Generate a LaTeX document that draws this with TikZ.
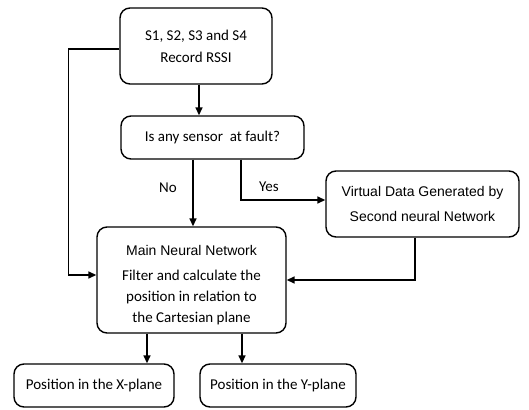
\documentclass[tikz,border=0pt]{standalone}
\usepackage{fontspec}
\setmainfont{Carlito}
\newfontfamily\arialf{Liberation Sans}
\usetikzlibrary{arrows.meta}
\begin{document}
\begin{tikzpicture}[x=1pt,y=1pt,
  box/.style={draw,line width=1.4pt,rounded corners=10pt,align=center,inner sep=0pt,font=\fontsize{15}{22}\selectfont},
  arr/.style={line width=1.6pt,-{Triangle[length=8pt,width=7pt]}},
  lbl/.style={font=\fontsize{15}{18}\selectfont}]
\useasboundingbox (0,0) rectangle (529,-409);
\node[box,minimum width=152pt,minimum height=76pt] (top) at (196,-46) {S1, S2, S3 and S4\\Record RSSI};
\node[box,minimum width=183pt,minimum height=43pt] (q) at (212.5,-137.5) {Is any sensor\ \ at fault?};
\node[box,minimum width=193pt,minimum height=66pt,font=\arialf\fontsize{14}{25}\selectfont] (virt) at (422.5,-204) {Virtual Data Generated by\\Second neural Network};
\node[box,minimum width=189pt,minimum height=106pt] (main) at (191.5,-280) {\rule{0pt}{20pt}{\arialf\fontsize{14}{16}\selectfont Main Neural Network}\\[3pt]Filter and calculate the\\[-1pt]position in relation to\\[-1pt]the Cartesian plane};
\node[box,minimum width=160pt,minimum height=43pt] (xp) at (94,-385.5) {Position in the X-plane};
\node[box,minimum width=156pt,minimum height=43pt] (yp) at (278,-385.5) {Position in the Y-plane};
\node[lbl] (no) at (168,-188) {No};
\node[lbl] (yes) at (269,-187) {Yes};
\draw[arr] ([xshift=3pt]top.south) -- ([xshift=3pt]top.south |- q.north);
\draw[arr] ([xshift=1.5pt]main.north |- q.south) -- ([xshift=1.5pt]main.north);
\draw[arr] ([xshift=28.5pt]q.south) |- ([yshift=4pt]virt.west);
\draw[arr] ([xshift=-7.5pt]virt.south) |- (main.east);
\draw[arr] ([yshift=-3pt]top.west) -- ++(-51,0) |- ([yshift=5pt]main.west);
\draw[arr] ([xshift=-44.5pt]main.south) -- ([xshift=-44.5pt]main.south |- xp.north);
\draw[arr] ([xshift=50.5pt]main.south) -- ([xshift=50.5pt]main.south |- yp.north);
\end{tikzpicture}
\end{document}
